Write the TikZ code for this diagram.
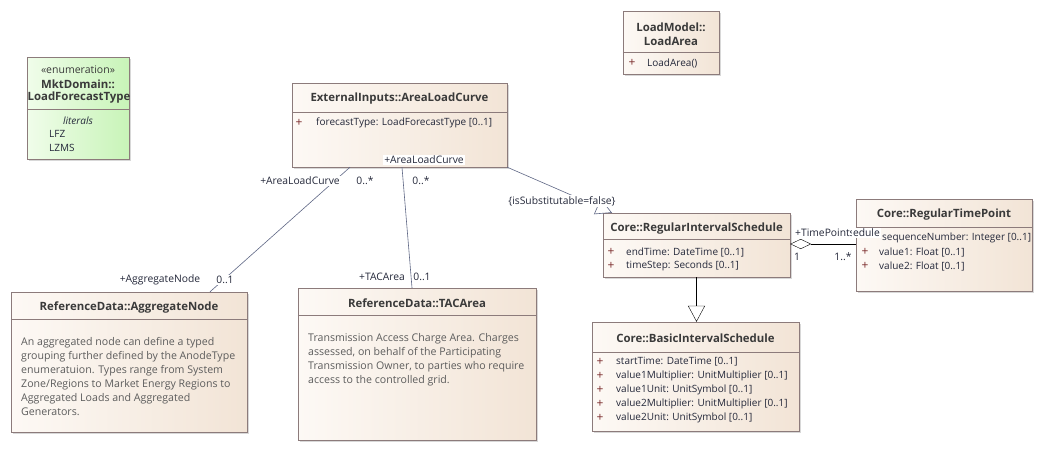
\documentclass[tikz,border=0pt]{standalone}
\usepackage{fontspec}
\setmainfont{Open Sans}
\usetikzlibrary{arrows.meta,positioning,shadows,calc}
\definecolor{boxline}{HTML}{8C7B7B}
\definecolor{beigeL}{HTML}{FDF9F5}
\definecolor{beigeR}{HTML}{F2E4D6}
\definecolor{greenL}{HTML}{F0FDEA}
\definecolor{greenR}{HTML}{C8F4B8}
\definecolor{headtext}{HTML}{3A3A3A}
\definecolor{attrtext}{HTML}{24283A}
\definecolor{plusmark}{HTML}{7A2A2A}
\definecolor{notetext}{HTML}{5C5C5C}
\definecolor{assocline}{HTML}{5F6785}
\tikzset{%
	classbox/.style = {draw=boxline, rectangle, left color=beigeL, right color=beigeR, drop shadow={shadow xshift=2pt, shadow yshift=-2pt, fill=black!30}, inner sep=0pt},
	enumbox/.style  = {classbox, left color=greenL, right color=greenR},
	sepline/.style  = {draw=boxline},
	head/.style     = {font=\fontsize{11.4}{14}\selectfont\bfseries, text=headtext, align=center, inner sep=0pt},
	attr/.style     = {font=\fontsize{10}{14}\selectfont, text=attrtext, anchor=west, inner sep=0pt},
	plus/.style     = {font=\fontsize{12}{14}\selectfont, text=plusmark, inner sep=0pt},
	note/.style     = {font=\fontsize{10.6}{14}\selectfont, text=notetext, anchor=north west, align=left, inner sep=0pt},
	role/.style     = {font=\fontsize{10.3}{11}\selectfont, text=attrtext, fill=white, inner sep=1pt},
	assoc/.style    = {draw=assocline, line width=0.6pt},
	gen/.style      = {-{Triangle[open, length=16pt, width=17pt]}},
	aggr/.style     = {{Diamond[open, length=21pt, width=10pt]}-},
}
\begin{document}
\begin{tikzpicture}[x=1pt, y=-1pt]
	\useasboundingbox[fill=white] (0,0) rectangle (1047,471);

	% class boxes
	\node[enumbox, minimum width=102pt, minimum height=102pt] (ltype) at (78,108) {};
	\node[classbox, minimum width=215pt, minimum height=84pt] (alc) at (399.5,125) {};
	\node[classbox, minimum width=96pt, minimum height=63pt] (larea) at (671,42.5) {};
	\node[classbox, minimum width=187pt, minimum height=64pt] (ris) at (696.5,245) {};
	\node[classbox, minimum width=176pt, minimum height=92pt] (rtp) at (944,245) {};
	\node[classbox, minimum width=207pt, minimum height=109pt] (bis) at (695.5,376.5) {};
	\node[classbox, minimum width=236pt, minimum height=140pt] (aggnode) at (129,362) {};
	\node[classbox, minimum width=238pt, minimum height=152pt] (tacarea) at (417,364) {};

	% compartment lines
	\draw[sepline] ([yshift=-52pt]ltype.north west) -- ([yshift=-52pt]ltype.north east);
	\draw[sepline] ([yshift=-29pt]alc.north west) -- ([yshift=-29pt]alc.north east);
	\draw[sepline] ([yshift=-41pt]larea.north west) -- ([yshift=-41pt]larea.north east);
	\draw[sepline] ([yshift=-26pt]ris.north west) -- ([yshift=-26pt]ris.north east);
	\draw[sepline] ([yshift=-28pt]rtp.north west) -- ([yshift=-28pt]rtp.north east);
	\draw[sepline] ([yshift=-30pt]bis.north west) -- ([yshift=-30pt]bis.north east);
	\draw[sepline] ([yshift=-27pt]aggnode.north west) -- ([yshift=-27pt]aggnode.north east);
	\draw[sepline] ([yshift=-27pt]tacarea.north west) -- ([yshift=-27pt]tacarea.north east);

	% LoadForecastType
	\node[attr, anchor=center, text=headtext, font=\fontsize{10.5}{14}\selectfont] at (78,70) {«enumeration»};
	\node[head] at (78,84) {MktDomain::};
	\node[head] at (79,98) {LoadForecastType};
	\node[attr, anchor=center, font=\fontsize{10}{14}\selectfont\itshape] at (78,121) {literals};
	\node[attr] at (49,134) {LFZ};
	\node[attr] at (49,148) {LZMS};

	% AreaLoadCurve
	\node[head] at (399.5,99) {ExternalInputs::AreaLoadCurve};
	\node[plus] at (299,123) {+};
	\node[attr] at (316,123) {forecastType: LoadForecastType [0..1]};

	% LoadArea
	\node[head] at (671,34) {LoadModel::\\LoadArea};
	\node[plus] at (632,63) {+};
	\node[attr] at (647,63) {LoadArea()};

	% RegularIntervalSchedule
	\node[head] at (696.5,229) {Core::RegularIntervalSchedule};
	\node[plus] at (611,252) {+};
	\node[attr] at (626,252) {endTime: DateTime [0..1]};
	\node[plus] at (611,266) {+};
	\node[attr] at (626,266) {timeStep: Seconds [0..1]};

	% RegularTimePoint
	\node[head] at (944,215) {Core::RegularTimePoint};
	\node[attr] at (882,238) {sequenceNumber: Integer [0..1]};
	\node[plus] at (865,252) {+};
	\node[attr] at (879,252) {value1: Float [0..1]};
	\node[plus] at (865,266) {+};
	\node[attr] at (879,266) {value2: Float [0..1]};

	% BasicIntervalSchedule
	\node[head] at (695.5,338) {Core::BasicIntervalSchedule};
	\foreach \y/\txt in {362/startTime: DateTime [0..1],
	                     376/value1Multiplier: UnitMultiplier [0..1],
	                     390/value1Unit: UnitSymbol [0..1],
	                     404/value2Multiplier: UnitMultiplier [0..1],
	                     418/value2Unit: UnitSymbol [0..1]}{
		\node[plus] at (600,\y) {+};
		\node[attr] at (616,\y) {\txt};
	}

	% AggregateNode
	\node[head] at (129,308) {ReferenceData::AggregateNode};
	\node[note] at (21,337) {An aggregated node can define a typed\\
		grouping further defined by the AnodeType\\
		enumeratuion. Types range from System\\
		Zone/Regions to Market Energy Regions to\\
		Aggregated Loads and Aggregated\\
		Generators.};

	% TACArea
	\node[head] at (417,303) {ReferenceData::TACArea};
	\node[note] at (308,333) {Transmission Access Charge Area. Charges\\
		assessed, on behalf of the Participating\\
		Transmission Owner, to parties who require\\
		access to the controlled grid.};

	% connectors
	\draw[assoc] ([xshift=-49.5pt]alc.south) -- ([xshift=81pt]aggnode.north);
	\draw[assoc] ([xshift=2.5pt]alc.south) -- ([xshift=-5pt]tacarea.north);
	\draw[assoc, gen] (alc.south east) -- ([xshift=-84.5pt]ris.north);
	\draw[gen] (ris.south) -- (ris.south |- bis.north);
	\draw[aggr] ([yshift=1pt]ris.east) -- ([yshift=1pt]rtp.west);

	% role labels
	\node[role] at (300,181) {+AreaLoadCurve};
	\node[role] at (365,181) {0..*};
	\node[role] at (160,280) {+AggregateNode};
	\node[role] at (225,280) {0..1};
	\node[role] at (424,160) {+AreaLoadCurve};
	\node[role] at (421,181) {0..*};
	\node[role] at (382,277) {+TACArea};
	\node[role] at (422,277) {0..1};
	\node[role] at (562,201) {\{isSubstitutable=false\}};
	\node[role, anchor=west] at (794,233) {+TimePoints};
	\node[role, anchor=east] at (881,233) {edule};
	\node[role, fill=none] at (797,257) {1};
	\node[role, fill=none] at (843,257) {1..*};
\end{tikzpicture}
\end{document}
